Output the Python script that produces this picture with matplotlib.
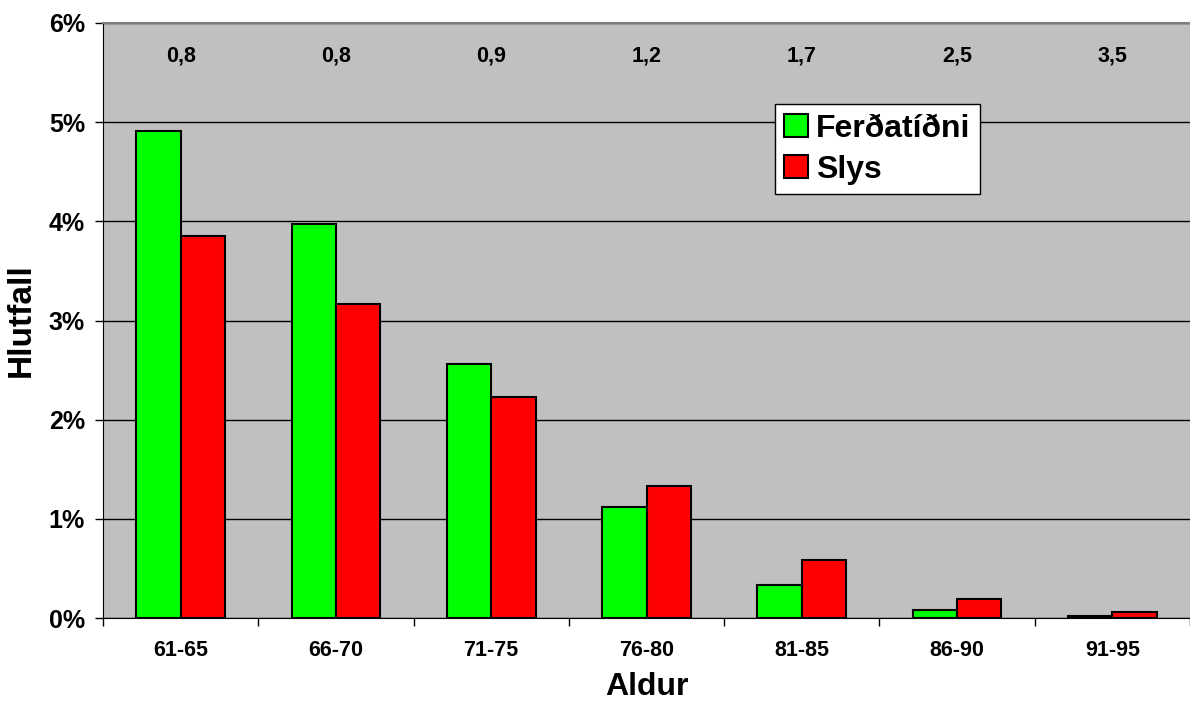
import numpy as np
import matplotlib.pyplot as plt
from matplotlib.ticker import FuncFormatter, FixedLocator, NullFormatter

plt.rcParams['font.family'] = ['Liberation Sans', 'DejaVu Sans']

# gögn lesin af myndinni
aldur = ['61-65', '66-70', '71-75', '76-80', '81-85', '86-90', '91-95']
ferdatidni = [4.91, 3.97, 2.56, 1.12, 0.33, 0.08, 0.02]
slys = [3.85, 3.17, 2.23, 1.33, 0.58, 0.19, 0.06]
hlutfall_texti = ['0,8', '0,8', '0,9', '1,2', '1,7', '2,5', '3,5']

fig = plt.figure(figsize=(11.9, 7.02), dpi=100)
ax = fig.add_axes([103 / 1190, 84 / 702, 1087 / 1190, 595 / 702])
ax.set_facecolor('#C0C0C0')

x = np.arange(len(aldur))
w = 0.286
ax.bar(x - w / 2, ferdatidni, w, color='#00FF00', edgecolor='black', linewidth=1.5,
       label='Ferðatíðni', zorder=3)
ax.bar(x + w / 2, slys, w, color='#FF0000', edgecolor='black', linewidth=1.5,
       label='Slys', zorder=3)

for i, t in enumerate(hlutfall_texti):
    ax.text(x[i], 5.67, t, ha='center', va='center', fontsize=15.5, fontweight='bold')

ax.set_xlim(-0.5, len(aldur) - 0.5)
ax.set_ylim(0, 6)
ax.set_yticks(range(0, 7))
ax.yaxis.set_major_formatter(FuncFormatter(lambda v, p: '%d%%' % v))
ax.grid(axis='y', color='black', linewidth=1, zorder=1)

ax.set_xticks(x)
ax.set_xticklabels(aldur)
ax.xaxis.set_minor_locator(FixedLocator(np.arange(-0.5, len(aldur), 1.0)))
ax.xaxis.set_minor_formatter(NullFormatter())
ax.tick_params(axis='x', which='major', length=0, pad=16, labelsize=15.5)
ax.tick_params(axis='x', which='minor', length=6, width=1, direction='out')
ax.tick_params(axis='y', length=6, width=1, direction='out', labelsize=18, pad=7)
for lab in ax.get_xticklabels() + ax.get_yticklabels():
    lab.set_fontweight('bold')

ax.spines['top'].set_color('#808080')
ax.spines['top'].set_linewidth(1.5)
ax.spines['right'].set_visible(False)
ax.spines['left'].set_color('black')
ax.spines['bottom'].set_color('black')

ax.set_xlabel('Aldur', fontsize=23, fontweight='bold')
ax.xaxis.label.set_va('baseline')
ax.xaxis.set_label_coords(0.5, -(695 - 618) / 595)
ax.set_ylabel('Hlutfall', fontsize=24, fontweight='bold')
ax.yaxis.set_label_coords(-(103 - 37) / 1087, 0.5)

leg = ax.legend(loc='upper left', bbox_to_anchor=(0.618, 0.864),
                prop={'weight': 'bold', 'size': 23}, frameon=True, fancybox=False,
                edgecolor='black', facecolor='white', framealpha=1,
                handlelength=0.75, handleheight=0.75, handletextpad=0.25,
                borderpad=0.3, labelspacing=0.35, borderaxespad=0)
leg.get_frame().set_linewidth(1)
leg.set_zorder(5)

fig.savefig('out.png', dpi=100)
